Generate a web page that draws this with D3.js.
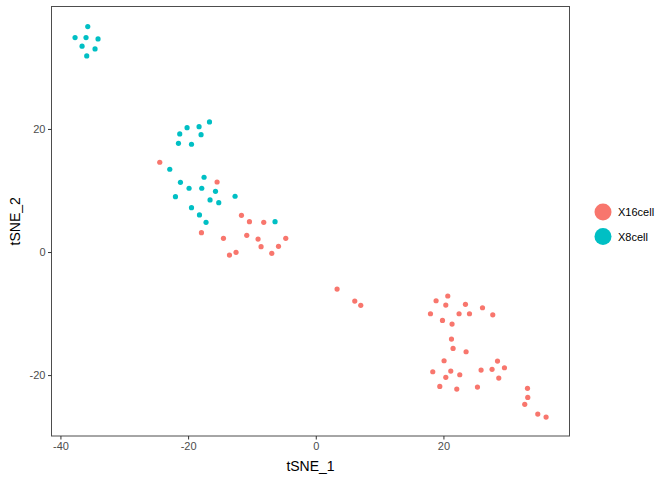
<!DOCTYPE html>
<html>
<head>
<meta charset="utf-8">
<script src="https://cdn.jsdelivr.net/npm/d3@7"></script>
<style>
  html, body { margin: 0; padding: 0; background: #fff; }
  svg { display: block; font-family: "Liberation Sans", Arial, Helvetica, sans-serif; }
</style>
</head>
<body>
<svg id="chart" width="672" height="480"></svg>
<script>
// ---- data ----
const categories = ["X16cell", "X8cell"];
const colors = ["#F8766D", "#00BFC4"];

const x8cell_x = [-35.72, -37.71, -35.99, -34.11, -36.61, -34.58, -35.88,
  -16.65, -20.16, -18.28, -21.31, -17.97, -21.51, -19.47,
  -22.87, -17.50, -21.20, -19.85, -17.86, -15.71, -21.98, -12.64, -16.56, -15.20,
  -19.47, -18.22, -17.19, -6.38];
const x8cell_y = [36.63, 34.85, 34.85, 34.63, 33.45, 33.01, 31.87,
  21.14, 20.21, 20.37, 19.19, 19.07, 17.67, 17.51,
  13.45, 12.15, 11.33, 10.36, 10.36, 9.87, 8.99, 9.06, 8.46, 8.02,
  7.20, 6.02, 4.83, 4.93];

const x16cell_x = [-24.44, -15.46, -11.64, -10.39, -8.15, -17.91, -14.46, -10.81, -9.04, -4.70,
  -8.57, -5.84, -6.89, -13.52, -12.49,
  3.34, 6.11, 7.05,
  18.85, 20.68, 20.37, 23.45, 26.12, 17.97, 22.45, 24.08, 27.73, 19.85, 21.35,
  21.26, 21.51, 23.55, 20.10, 28.47, 29.56, 25.90, 27.62, 18.33, 21.15, 22.56,
  20.37, 28.67, 19.43, 22.09, 25.33, 33.17, 33.21, 32.74, 34.78, 36.08];
const x16cell_y = [14.59, 11.38, 5.97, 4.93, 4.83, 3.14, 2.23, 2.72, 2.11, 2.23,
  0.86, 0.93, -0.21, -0.49, -0.05,
  -6.02, -7.97, -8.67,
  -7.92, -7.15, -8.62, -8.50, -9.06, -10.03, -10.03, -10.03, -10.20, -11.11, -11.71,
  -14.15, -15.66, -16.21, -17.67, -17.72, -18.81, -19.19, -19.07, -19.46, -19.35, -19.95,
  -20.37, -20.49, -21.84, -22.28, -21.95, -22.16, -23.63, -24.76, -26.34, -26.83];

const xTicks = [-40, -20, 0, 20];
const yTicks = [-20, 0, 20];
const xTitle = "tSNE_1";
const yTitle = "tSNE_2";

// ---- layout ----
const svg = d3.select("#chart");
const panel = { left: 51.5, right: 569.5, top: 6.5, bottom: 436 };

const x = d3.scaleLinear().domain([-41.4, 39.75]).range([panel.left, panel.right]);
const y = d3.scaleLinear().domain([-29.9, 39.9]).range([panel.bottom, panel.top]);

const points = [];
x16cell_x.forEach((v, i) => points.push({ x: v, y: x16cell_y[i], g: 0 }));
x8cell_x.forEach((v, i) => points.push({ x: v, y: x8cell_y[i], g: 1 }));

// points
svg.append("g").selectAll("circle").data(points).join("circle")
  .attr("cx", d => x(d.x))
  .attr("cy", d => y(d.y))
  .attr("r", 2.6)
  .attr("fill", d => colors[d.g]);

// panel border
svg.append("rect")
  .attr("x", panel.left).attr("y", panel.top)
  .attr("width", panel.right - panel.left)
  .attr("height", panel.bottom - panel.top)
  .attr("fill", "none").attr("stroke", "#4d4d4d").attr("stroke-width", 1);

// axes
const xAxis = svg.append("g")
  .attr("transform", `translate(0,${panel.bottom})`)
  .call(d3.axisBottom(x).tickValues(xTicks).tickFormat(d3.format("d")).tickSize(3.5).tickPadding(2.5));
const yAxis = svg.append("g")
  .attr("transform", `translate(${panel.left},0)`)
  .call(d3.axisLeft(y).tickValues(yTicks).tickFormat(d3.format("d")).tickSize(3.5).tickPadding(2.5));

[xAxis, yAxis].forEach(a => {
  a.select(".domain").remove();
  a.selectAll(".tick line").attr("stroke", "#333333");
  a.selectAll(".tick text")
    .attr("fill", "#4d4d4d")
    .style("font-size", "11px")
    .style("font-family", "'Liberation Sans', Arial, sans-serif")
    .text(d => d < 0 ? "-" + Math.abs(d) : d);
});

// axis titles
svg.append("text")
  .attr("x", (panel.left + panel.right) / 2)
  .attr("y", 471)
  .attr("text-anchor", "middle")
  .style("font-size", "14px")
  .attr("fill", "#000")
  .text(xTitle);

svg.append("text")
  .attr("transform", `translate(20,${(panel.top + panel.bottom) / 2}) rotate(-90)`)
  .attr("text-anchor", "middle")
  .style("font-size", "14px")
  .attr("fill", "#000")
  .text(yTitle);

// legend
const legend = svg.append("g").attr("transform", "translate(603,212)");
categories.forEach((c, i) => {
  const g = legend.append("g").attr("transform", `translate(0,${i * 24.5})`);
  g.append("circle").attr("r", 8.5).attr("fill", colors[i]);
  g.append("text").attr("x", 15).attr("y", 4)
    .style("font-size", "11px").attr("fill", "#000").text(c);
});
</script>
</body>
</html>
